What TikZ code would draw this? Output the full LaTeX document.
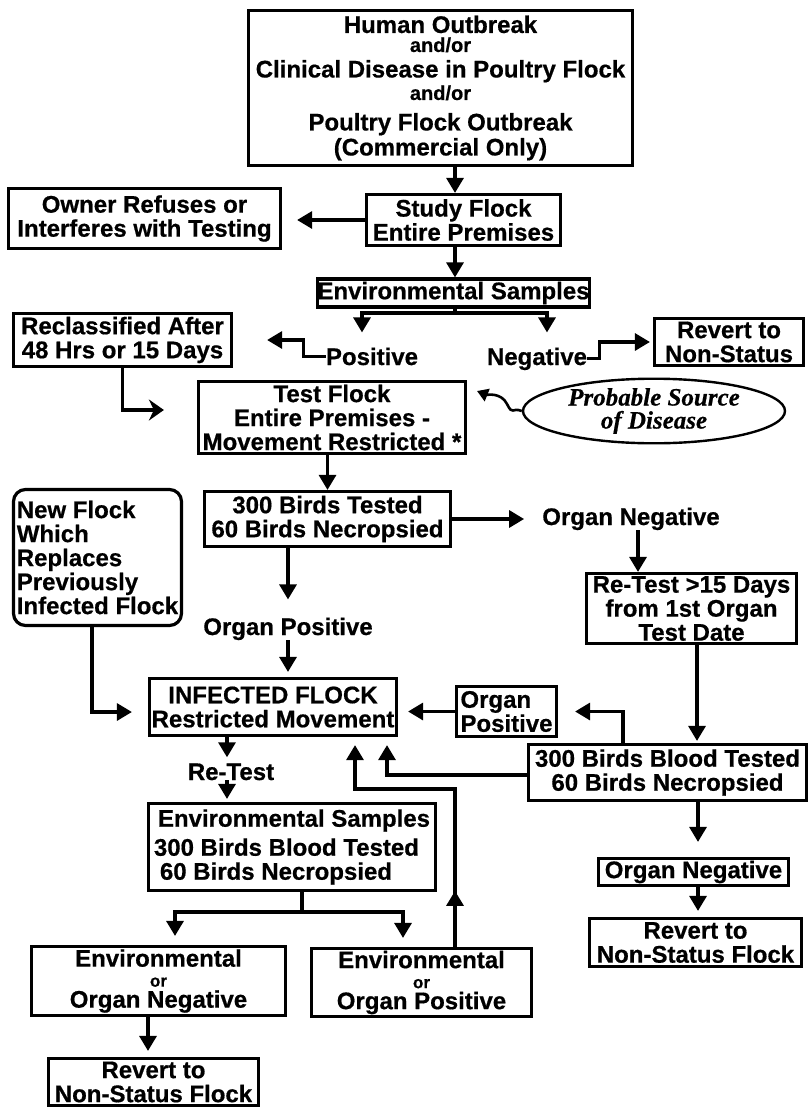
\documentclass[tikz,border=0pt]{standalone}
\usepackage{fontspec}
\setmainfont{Liberation Sans}[BoldFeatures={FakeBold=0.6}]
\newfontfamily\srcfont{Liberation Serif}[BoldItalicFeatures={FakeBold=0.5}]
\usetikzlibrary{arrows.meta,shapes.geometric,calc,decorations.markings}

% smaller type for the "and/or" and "or" lines
\newcommand{\andsize}{\fontsize{20}{20}\selectfont}
\newcommand{\orsize}{\fontsize{17}{17}\selectfont}

\tikzset{
  lbl/.style={font=\fontsize{24}{24}\selectfont\bfseries, inner sep=0pt, align=center},
  fbox/.style 2 args={lbl, draw, line width=3.2pt, minimum width=#1, minimum height=#2},
  conn/.style={line width=3.2pt},
  arr/.style={conn, -{Triangle[length=15pt,width=17pt]}},
  barb/.style={conn, -{Stealth[length=15pt,width=21pt,inset=5pt]}},
  wave/.style={line width=2.6pt, -{Triangle[length=11pt,width=13pt]}},
  midup/.style={postaction={decorate}, decoration={markings,
      mark=at position 56pt with {\arrow{Triangle[length=15pt,width=17pt]}}}}
}

\begin{document}
\begin{tikzpicture}[x=1pt,y=-1pt]
\useasboundingbox (0,0) rectangle (810,1108);

% ---------- boxes ----------
\node[fbox={384pt}{155pt}] (top) at (440.5,88)
  {Human Outbreak\\[-5pt]{\andsize and/or}\\[1.5pt]Clinical Disease in Poultry Flock\\[-1.5pt]{\andsize and/or}\\[6.5pt]Poultry Flock Outbreak\\[1pt](Commercial Only)};
\node[fbox={272pt}{60pt}] (owner) at (144.5,218.5) {Owner Refuses or\\Interferes with Testing};
\node[fbox={194pt}{51pt}] (study) at (463.5,220) {Study Flock\\Entire Premises};
\node[fbox={270pt}{28pt}] (env1) at (453.5,293) {Environmental Samples};
\node[lbl, anchor=base] (pos) at (372,365) {Positive};
\node[lbl, anchor=base] (neg) at (537,365) {Negative};
\node[fbox={218pt}{53pt}] (reclass) at (122.5,340) {Reclassified After\\48 Hrs or 15 Days};
\node[fbox={149pt}{47pt}] (rev1) at (729,342) {Revert to\\Non-Status};
\node[fbox={267pt}{72pt}] (tflock) at (332,417.5) {Test Flock\\Entire Premises -\\Movement Restricted *};
\node[ellipse, draw, line width=2.4pt, minimum width=262pt, minimum height=62pt, inner sep=0pt,
      align=center, font=\srcfont\fontsize{25}{23}\selectfont\bfseries\itshape] (src) at (654,411)
  {Probable Source\\of Disease};
\node[fbox={246pt}{55pt}] (b300) at (327.5,519) {300 Birds Tested\\60 Birds Necropsied};
\node[lbl, anchor=base] (oneg) at (631,525) {Organ Negative};
\node[lbl, anchor=base] (opos) at (288,635) {Organ Positive};
\node[fbox={210pt}{70pt}] (retest) at (691.5,608.5) {Re-Test >15 Days\\from 1st Organ\\Test Date};
\node[fbox={168pt}{136pt}, rounded corners=12pt, align=left] (newf) at (97.5,557.5)
  {New Flock\\Which\\Replaces\\Previously\\Infected Flock};
\node[fbox={247pt}{57pt}] (inf) at (273,707) {INFECTED FLOCK\\Restricted Movement};
\node[fbox={100pt}{50pt}, align=left] (opbox) at (506.5,711.5) {Organ\\Positive};
\node[fbox={278pt}{56pt}] (bl300) at (667.5,772.5) {300 Birds Blood Tested\\60 Birds Necropsied};
\node[lbl, anchor=base] (rtl) at (231,780) {Re-Test};
\node[fbox={287pt}{87pt}, align=left] (env2) at (292,847)
  {\hspace{4pt}Environmental Samples\\[5pt]300 Birds Blood Tested\\\hspace{6pt}60 Birds Necropsied};
\node[fbox={254pt}{69pt}] (eneg) at (158.5,981) {Environmental\\[-4pt]{\orsize or}\\[-3pt]Organ Negative};
\node[fbox={220pt}{68pt}] (epos) at (421.5,982.5) {Environmental\\[-4pt]{\orsize or}\\[-3pt]Organ Positive};
\node[fbox={190pt}{27pt}] (onegb) at (693.5,872) {Organ Negative};
\node[fbox={212pt}{48pt}] (rev2) at (695.5,942.5) {Revert to\\Non-Status Flock};
\node[fbox={210pt}{47pt}] (rev3) at (153.5,1082) {Revert to\\Non-Status Flock};

% ---------- connector guide positions ----------
\coordinate (ax)  at (455,0);
\coordinate (jp)  at (362,313);
\coordinate (jn)  at (547,313);
\coordinate (wt)  at (477,391);
\coordinate (ax2) at (638,0);
\coordinate (ax3) at (697,0);
\coordinate (ax4) at (623,0);
\coordinate (ax5) at (387,0);
\coordinate (ax6) at (455,0);
\coordinate (jx)  at (355,789);
\coordinate (ax8) at (227,0);
\coordinate (s2)  at (302,912);
\coordinate (s2l) at (175,912);
\coordinate (s2r) at (403,912);
\coordinate (ax9) at (698,0);
\coordinate (ax10) at (148,0);

% ---------- connectors ----------
\draw[arr] (top.south -| ax) -- (study.north -| ax);
\draw[arr, shorten >=15pt] (study.west) -- (study.west -| owner.east);
\draw[arr] (study.south -| ax) -- (env1.north -| ax);
\draw[conn] (env1.south -| ax) -- (jp -| ax);
\draw[arr, shorten >=15pt] (jn) -- (jp) -- (jp |- pos.north);
\draw[arr, shorten >=15pt] (jp) -- (jn) -- (jn |- neg.north);
\draw[arr, shorten >=34pt] (pos.west) -- ++(-22,0) |- (reclass.east);
\draw[arr, shorten >=3pt] (neg.east) -- ++(12,0) |- (rev1.west);
\draw[barb, shorten >=33pt] (reclass.south) |- ($(tflock.west)+(0,-7.5)$);
\draw[wave] (src.west) .. controls +(-10,-4) and +(6,12) .. (507,404)
            .. controls +(-6,-12) and +(10,4) .. (wt);
\draw[arr] (tflock.south -| b300.north) -- (b300.north);
\draw[arr, shorten >=18pt] (b300.east) -- (b300.east -| oneg.west);
\draw[arr] (oneg.south -| ax2) -- (retest.north -| ax2);
\draw[arr, shorten >=18pt] (b300.south -| opos) -- (opos.north);
\draw[arr, shorten >=5pt] (opos.south) -- (opos.south |- inf.north);
\draw[arr, shorten >=16pt] ($(newf.south)+(-5.5,0)$) |- ($(inf.west)+(0,5)$);
\draw[arr, shorten >=2pt] (retest.south -| ax3) -- (bl300.north -| ax3);
\draw[arr, shorten >=17pt] (bl300.north -| ax4) |- (opbox.east);
\draw[arr, shorten >=10pt] (opbox.west) -- (opbox.west -| inf.east);
\draw[arr, shorten >=8pt] ($(bl300.west)+(0,2.5)$) -| (inf.south -| ax5);
\draw[arr, shorten >=8pt, midup] (epos.north -| ax6) |- (jx) -- (jx |- inf.south);
\draw[arr, shorten >=6pt] (inf.south -| ax8) -- (rtl.north -| ax8);
\draw[arr, shorten >=3pt] (rtl.south -| ax8) -- (env2.north -| ax8);
\draw[conn] (env2.south -| s2) -- (s2);
\draw[arr, shorten >=9pt] (s2r) -- (s2l) -- (s2l |- eneg.north);
\draw[arr, shorten >=9pt] (s2l) -- (s2r) -- (s2r |- epos.north);
\draw[arr, shorten >=15pt] (bl300.south -| ax9) -- (onegb.north -| ax9);
\draw[arr, shorten >=6pt] (onegb.south -| ax9) -- (rev2.north -| ax9);
\draw[arr, shorten >=6pt] (eneg.south -| ax10) -- (rev3.north -| ax10);
\end{tikzpicture}
\end{document}
